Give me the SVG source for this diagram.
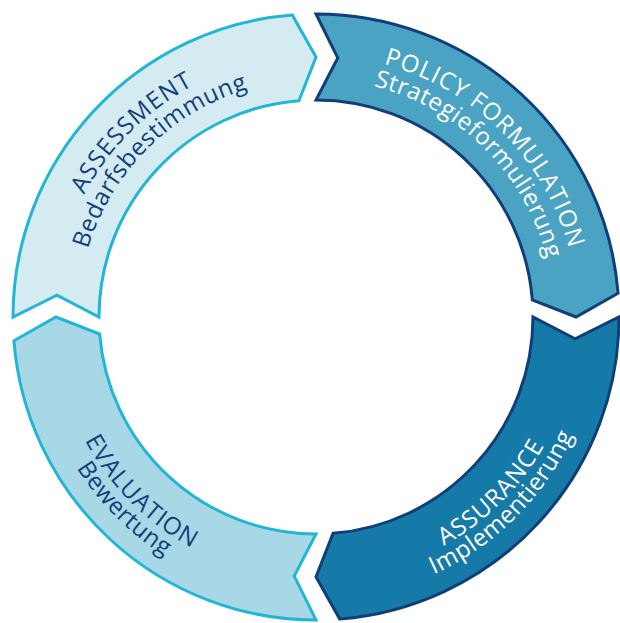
<svg xmlns="http://www.w3.org/2000/svg" xmlns:xlink="http://www.w3.org/1999/xlink" width="620" height="623" viewBox="0 0 620 623">
  <style>
    .seg { stroke-width: 3; stroke-linejoin: miter; }
    .light { stroke: #22b6d6; }
    .dark { stroke: #0f3e78; }
    .lbl { font-family: "Open Sans", "Noto Sans", "Liberation Sans", sans-serif; font-size: 24px; }
    .caps { letter-spacing: 1px; }
    .low { letter-spacing: 0.5px; }
    .navy { fill: #123f7c; }
    .white { fill: #ffffff; }
  </style>
  <defs>
    <!-- baselines for the curved labels (centre 316,317) -->
    <path id="arcA1" d="M62.93,384.81 A262,262 0 0 1 383.81,63.93"/>
    <path id="arcA2" d="M86.11,378.60 A238,238 0 0 1 377.60,87.11"/>
    <path id="arcP1" d="M248.19,63.93 A262,262 0 0 1 569.07,384.81"/>
    <path id="arcP2" d="M254.40,87.11 A238,238 0 0 1 545.89,378.60"/>
    <path id="arcS1" d="M248.19,570.07 A262,262 0 0 0 569.07,249.19"/>
    <path id="arcS2" d="M242.75,590.36 A283,283 0 0 0 589.36,243.75"/>
    <path id="arcE1" d="M62.93,249.19 A262,262 0 0 0 383.81,570.07"/>
    <path id="arcE2" d="M42.64,243.75 A283,283 0 0 0 389.25,590.36"/>
  </defs>

  <rect width="620" height="623" fill="#ffffff"/>

  <g id="assessment">
    <path class="seg light" fill="#d4ebf2" d="M13,317 A303,303 0 0 1 292.23,14.93 L316,57 L298.97,100.67 A217,217 0 0 0 99,317 L56.91,295.24 Z"/>
    <text class="lbl caps navy" text-anchor="middle"><textPath xlink:href="#arcA1" href="#arcA1" startOffset="50%">ASSESSMENT</textPath></text>
    <text class="lbl low navy" text-anchor="middle"><textPath xlink:href="#arcA2" href="#arcA2" startOffset="50%">Bedarfsbestimmung</textPath></text>
  </g>

  <g id="policy-formulation">
    <path class="seg dark" fill="#4ba3c3" d="M316,14 A303,303 0 0 1 618.07,293.23 L576,317 L532.33,299.97 A217,217 0 0 0 316,100 L337.76,57.91 Z"/>
    <text class="lbl caps white" text-anchor="middle"><textPath xlink:href="#arcP1" href="#arcP1" startOffset="50%">POLICY FORMULATION</textPath></text>
    <text class="lbl low white" text-anchor="middle"><textPath xlink:href="#arcP2" href="#arcP2" startOffset="50%">Strategieformulierung</textPath></text>
  </g>

  <g id="assurance">
    <path class="seg dark" fill="#167aa8" d="M619,317 A303,303 0 0 1 339.77,619.07 L316,577 L333.03,533.33 A217,217 0 0 0 533,317 L575.09,338.76 Z"/>
    <text class="lbl caps white" text-anchor="middle"><textPath xlink:href="#arcS1" href="#arcS1" startOffset="50%">ASSURANCE</textPath></text>
    <text class="lbl low white" text-anchor="middle"><textPath xlink:href="#arcS2" href="#arcS2" startOffset="50%">Implementierung</textPath></text>
  </g>

  <g id="evaluation">
    <path class="seg light" fill="#a8d8e6" d="M316,620 A303,303 0 0 1 13.93,340.77 L56,317 L99.67,334.03 A217,217 0 0 0 316,534 L294.24,576.09 Z"/>
    <text class="lbl caps navy" text-anchor="middle"><textPath xlink:href="#arcE1" href="#arcE1" startOffset="50%">EVALUATION</textPath></text>
    <text class="lbl low navy" text-anchor="middle"><textPath xlink:href="#arcE2" href="#arcE2" startOffset="50%">Bewertung</textPath></text>
  </g>
</svg>
